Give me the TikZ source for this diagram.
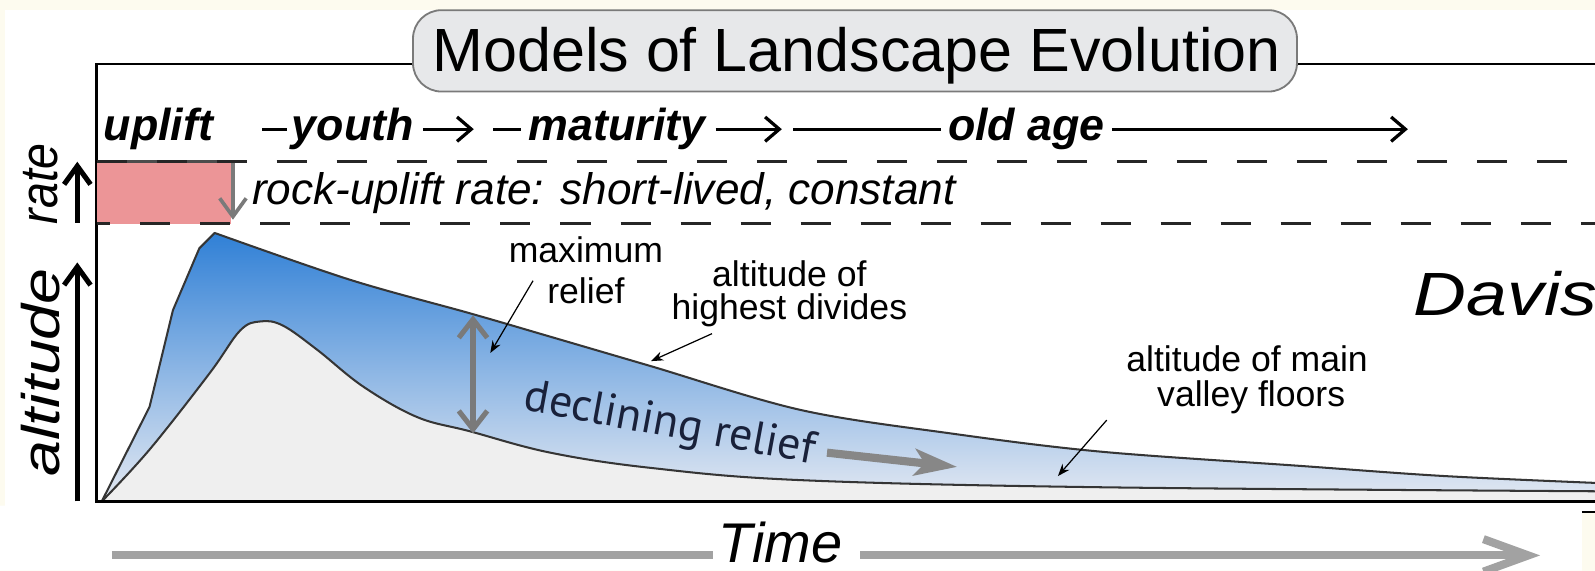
\documentclass[tikz,border=0pt]{standalone}
\usepackage{fontspec}
\usepackage{graphicx}
\setmainfont{Liberation Sans}
\newfontfamily\reliefface{PT Sans}
\usetikzlibrary{arrows.meta,calc}

\definecolor{paper}{HTML}{FDFBEF}
\definecolor{titlefill}{HTML}{E7E8EA}
\definecolor{titleline}{HTML}{7A7A7A}
\definecolor{upliftpink}{HTML}{EC9597}
\definecolor{reliefdark}{HTML}{3080D6}
\definecolor{reliefmid}{HTML}{8EAFE0}
\definecolor{relieflight}{HTML}{E4E9F2}
\definecolor{valleygray}{HTML}{EFEFEF}
\definecolor{curveline}{HTML}{353535}
\definecolor{markgray}{HTML}{7A7A7A}
\definecolor{timegray}{HTML}{A2A2A2}
\definecolor{navytext}{HTML}{19213A}

% upper envelope: altitude of the highest divides
\def\ridgeline{(100,493) -- (147,400) -- (170,305) -- (196,244) -- plot[smooth,tension=0.55] coordinates {(211,229) (344,275) (462,308) (541,331) (640,360) (787,403) (934,426) (1082,444) (1278,458) (1420,468) (1575,475)}}
% lower envelope: altitude of the main valley floors
\def\valleyline{plot[smooth,tension=0.6] coordinates {(100,493) (147,442) (206,367) (236,325) (256,316) (278,320) (312,344) (357,380) (410,410) (462,424) (541,445) (640,460) (787,472) (1082,479) (1575,483)}}

\begin{document}
\begin{tikzpicture}[x=0.5pt,y=-0.5pt,
  lbl/.style={inner sep=0pt, outer sep=0pt},
  stagelabel/.style={lbl, anchor=base west, font=\fontsize{22}{22}\selectfont\bfseries\itshape},
  note/.style={lbl, anchor=base, font=\fontsize{17.5}{20}\selectfont},
  pointer/.style={line width=0.6pt, -{Stealth[length=6pt,width=4.5pt]}},
  stagearrow/.style={line width=1.6pt, -{Straight Barb[length=7pt,width=12pt]}},
  stagerule/.style={line width=1.6pt},
  dashedrule/.style={line width=1.6pt, black!85, dash pattern=on 14.75pt off 14.75pt},
  axisarrow/.style={line width=2.5pt, -{Straight Barb[length=9pt,width=13pt]}},
  profile/.style={line width=1pt, draw=curveline, line join=round},
  grayarrow/.style={markgray, line width=1.8pt},
  timearrow/.style={timegray, line width=4pt},
]
\useasboundingbox (0,0) rectangle (1568,561);

% paper and white sheet
\fill[paper] (0,0) rectangle (1568,561);
\fill[white] (5,10) -- (1568,10) -- (1568,503) -- (1555,503) -- (1555,561) -- (0,561) -- (0,497) -- (5,497) -- cycle;
\draw[line width=1pt] (1555,503) -- (1568,503);

% relief band and valley-floor area
\shade[top color=reliefdark, middle color=reliefmid, bottom color=relieflight]
  \ridgeline -- (1575,493) -- cycle;
\fill[valleygray] \valleyline -- (1575,493) -- cycle;
\draw[profile] \ridgeline;
\draw[profile] \valleyline;

% frame and time axis
\draw[line width=1.2pt] (1600,63) -- (95,63) -- (95,493) -- (1600,493);

% title
\node[draw=titleline, fill=titlefill, line width=0.9pt, rounded corners=14pt,
      minimum width=434.5pt, minimum height=40pt, inner sep=0pt] (titlebox) at (840.5,50) {};
\node[lbl, anchor=base, font=\fontsize{30}{30}\selectfont] (title) at (842,70.5) {Models of Landscape Evolution};

% stages
\node[stagelabel] (uplift) at (102,138) {uplift};
\node[stagelabel] (youth) at (287,138) {youth};
\node[stagelabel] (maturity) at (520,138) {maturity};
\node[stagelabel] (oldage) at (932,138) {old age};
\draw[stagerule] ([shift={(-29,-11)}]youth.base west) -- ++(24,0);
\draw[stagearrow] ([shift={(9,-11)}]youth.base east) -- ++(50,0);
\draw[stagerule] ([shift={(-35,-11)}]maturity.base west) -- ++(27,0);
\draw[stagearrow] ([shift={(10,-11)}]maturity.base east) -- ++(65,0);
\draw[stagerule] ([shift={(-152,-11)}]oldage.base west) -- ++(145,0);
\draw[stagearrow] ([shift={(7,-11)}]oldage.base east) -- ++(291,0);

% rock-uplift rate band
\fill[upliftpink] (95,159) rectangle (227,220);
\draw[line width=1.5pt, black!70] (95,159) -- (229,159);
\draw[dashedrule] (95,159) -- (1568,159);
\draw[dashedrule, dash phase=8pt] (95,220) -- (1568,220);
\coordinate (rtop) at (229,160);
\coordinate (rbot) at (229,216);
\draw[grayarrow, -{Straight Barb[length=9pt,width=13pt]}] (rtop) -- (rbot);
\node[lbl, anchor=base west, font=\fontsize{21.7}{22}\selectfont\itshape] (ratetext) at (248,201) {rock-uplift rate: short-lived, constant};

% vertical axis labels
\node[lbl, rotate=90, font=\fontsize{26}{26}\selectfont\itshape] (rateaxis) at (40,181) {\scalebox{0.88}[1]{rate}};
\node[lbl, rotate=90, font=\fontsize{26}{26}\selectfont\itshape] (altaxis) at (40,366) {\scalebox{1.22}[1]{altitude}};
\coordinate (ra0) at (76,219);
\coordinate (ra1) at (76,159);
\coordinate (aa0) at (76,493);
\coordinate (aa1) at (76,258);
\draw[axisarrow] (ra0) -- (ra1);
\draw[axisarrow] (aa0) -- (aa1);

% maximum relief
\coordinate (mr0) at (465,310);
\coordinate (mr1) at (465,426);
\draw[markgray, line width=2.5pt, {Straight Barb[length=9pt,width=14pt]}-{Straight Barb[length=9pt,width=14pt]}] (mr0) -- (mr1);

% annotations
\node[note] (maxa) at (576,258) {maximum};
\node[note] (maxb) at (576,298) {relief};
\node[note] (diva) at (776,282) {altitude of};
\node[note] (divb) at (776,314) {highest divides};
\node[note] (vala) at (1226,365) {altitude of main};
\node[note] (valb) at (1230,400) {valley floors};
\coordinate (p1) at (524,276);
\coordinate (p1t) at (482,347);
\coordinate (p2) at (700,328);
\coordinate (p2t) at (640,355);
\coordinate (p3) at (1088,413);
\coordinate (p3t) at (1040,468);
\draw[pointer] (p1) -- (p1t);
\draw[pointer] (p2) -- (p2t);
\draw[pointer] (p3) -- (p3t);

% declining relief
\node[lbl, anchor=base west, rotate=-10.5, text=navytext, font=\reliefface\fontsize{22.5}{23}\selectfont] (decl) at (514,403) {declining relief};
\coordinate (d0) at (813,445);
\coordinate (d1) at (941,459);
\draw[line width=4pt, markgray!90, -{Stealth[length=21pt,width=13pt,inset=5pt]}] (d0) -- (d1);

% model name
\node[lbl, anchor=base west, font=\fontsize{30}{30}\selectfont\itshape] (davis) at (1390,310) {\scalebox{1.2}[1]{Davis}};

% time axis arrow
\node[lbl, anchor=base, font=\fontsize{27.5}{28}\selectfont\itshape] (timelabel) at (767,553) {Time};
\coordinate (tstart) at (110,546);
\coordinate (tend) at (1514,546);
\draw[timearrow] (tstart) -- ($(tstart -| timelabel.west)+(-5,0)$);
\draw[timearrow, -{Straight Barb[length=22pt,width=16pt]}] ($(tend -| timelabel.east)+(18,0)$) -- (tend);
\end{tikzpicture}
\end{document}
